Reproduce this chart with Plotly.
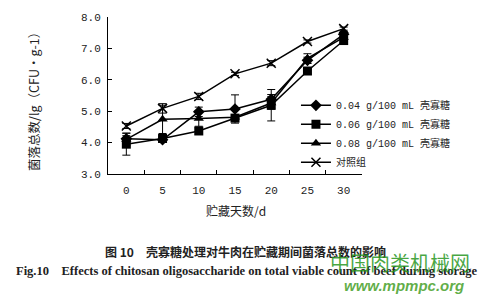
import plotly.graph_objects as go

days = ["0", "5", "10", "15", "20", "25", "30"]
s004 = [4.12, 4.09, 4.98, 5.07, 5.38, 6.62, 7.45]
s006 = [3.95, 4.13, 4.37, 4.78, 5.19, 6.28, 7.25]
s008 = [4.10, 4.74, 4.77, 4.81, 5.26, 6.68, 7.35]
ctrl = [4.53, 5.09, 5.47, 6.19, 6.53, 7.22, 7.63]
e004 = [0.10, 0.08, 0.15, 0.45, 0.15, 0.10, 0.08]
e006 = [0.35, 0.08, 0.10, 0.08, 0.50, 0.10, 0.08]
e008 = [0.20, 0.45, 0.25, 0.08, 0.20, 0.15, 0.08]
ectrl = [0.08, 0.15, 0.10, 0.05, 0.08, 0.05, 0.05]
names = ["0.04 g/100 mL 壳寡糖", "0.06 g/100 mL 壳寡糖", "0.08 g/100 mL 壳寡糖", "对照组"]

mono = "Liberation Mono, Noto Sans CJK SC"
fig = go.Figure()
for ys, es, nm, sym in [(s004, e004, names[0], "diamond"), (s006, e006, names[1], "square"),
                        (s008, e008, names[2], "triangle-up"), (ctrl, ectrl, names[3], "x-thin")]:
    fig.add_trace(go.Scatter(
        x=days, y=ys, name=nm, mode="lines+markers",
        line=dict(color="black", width=1.5),
        marker=dict(symbol=sym, size=9 if sym != "triangle-up" else 9, color="black",
                    line=dict(color="black", width=1.5 if sym == "x-thin" else 0)),
        error_y=dict(type="data", array=es, color="black", thickness=1, width=4),
    ))

fig.update_layout(
    width=500, height=307, paper_bgcolor="white", plot_bgcolor="white",
    margin=dict(l=108, r=138, t=13, b=133),
    font=dict(family=mono, size=11, color="#222"),
    showlegend=True,
    legend=dict(x=0.74, y=0.53, xanchor="left", yanchor="top", bgcolor="rgba(0,0,0,0)",
                font=dict(family=mono, size=10), tracegroupgap=0, itemwidth=30),
    xaxis=dict(type="category", showline=True, linecolor="black", linewidth=1,
               ticks="inside", tickson="boundaries", ticklen=4, tickcolor="black",
               showgrid=False, zeroline=False, tickfont=dict(family=mono, size=11),
               ticklabelstandoff=6),
    yaxis=dict(range=[3, 8], dtick=1, tickformat=".1f", showline=True, linecolor="black",
               linewidth=1, ticks="inside", ticklen=4, tickcolor="black", showgrid=False,
               zeroline=False, tickfont=dict(family=mono, size=11), ticklabelstandoff=4),
)

fig.add_annotation(text="菌落总数/lg（CFU·g-1）", showarrow=False, textangle=-90,
                   font=dict(family="Noto Sans CJK SC", size=12.5))
fig.add_annotation(text="贮藏天数/d", showarrow=False,
                   font=dict(family="Noto Sans CJK SC", size=12))
fig.add_annotation(text="<b>图 10　壳寡糖处理对牛肉在贮藏期间菌落总数的影响</b>", showarrow=False,
                   font=dict(family="Noto Sans CJK SC", size=12))
fig.add_annotation(text="<b>Fig.10    Effects of chitosan oligosaccharide on total viable count of beef during storage</b>",
                   showarrow=False, font=dict(family="Liberation Serif", size=12.5))
fig.add_annotation(text="中国肉类机械网", showarrow=False,
                   font=dict(family="Noto Sans CJK SC", size=20, color="rgba(40,150,30,0.85)"))
fig.add_annotation(text="<b><i>www.mpmpc.org</i></b>", showarrow=False,
                   font=dict(family="Liberation Sans", size=15, color="rgba(70,160,40,0.85)"))

# place annotations in pixel space (convert to paper coords)
W, H = 254, 161
def px(xp, yp):
    return (xp - 108) / W, (174 - yp) / H
anns = list(fig.layout.annotations)
pos = [(34, 97), (236, 211), (245, 253), (247, 273), (400, 265), (404, 288)]
for a, (xp, yp) in zip(anns, pos):
    a.x, a.y = px(xp, yp)
    a.xref = "paper"; a.yref = "paper"
    a.xanchor = "center"; a.yanchor = "middle"
fig.layout.annotations = anns

fig.write_html("out.html")
